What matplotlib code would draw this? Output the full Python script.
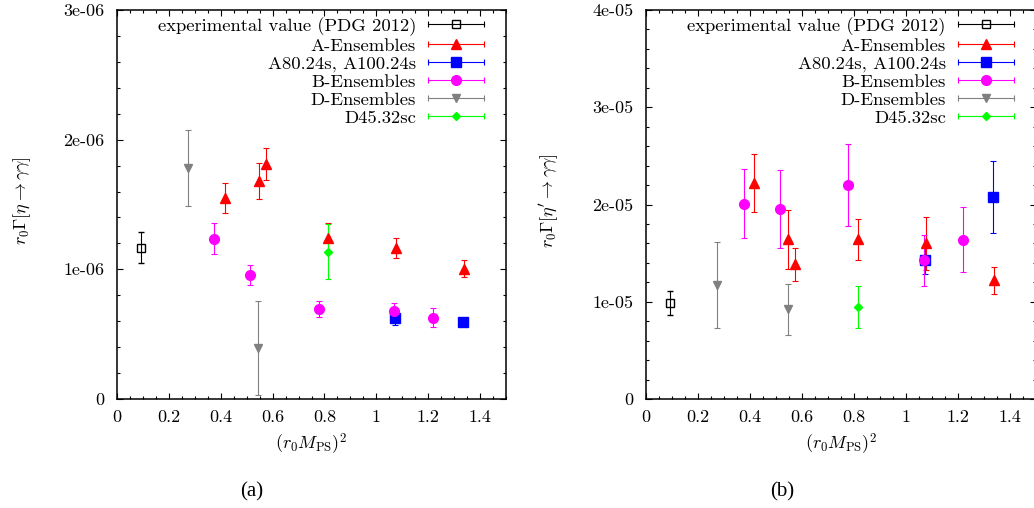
import numpy as np
import matplotlib
matplotlib.use("Agg")
import matplotlib.pyplot as plt
from matplotlib.lines import Line2D
from matplotlib.legend_handler import HandlerBase
from matplotlib.container import ErrorbarContainer
from matplotlib.ticker import MultipleLocator, FuncFormatter

plt.rcParams['mathtext.fontset'] = 'cm'
plt.rcParams['font.family'] = ['cmr10', 'DejaVu Serif']
plt.rcParams['axes.unicode_minus'] = False

# (r0 M_PS)^2 of the ensembles, shared by both panels
x_exp = [0.093]
x_A = [0.416, 0.546, 0.573, 0.815, 1.077, 1.338]
x_A24 = [1.073, 1.336]
x_B = [0.375, 0.514, 0.778, 1.069, 1.219]
x_D = [0.273, 0.545]
x_D45 = [0.815]

# panel (a): r0 Gamma[eta -> gamma gamma]
eta_exp = [1.167e-6]
eta_exp_err = [0.12e-6]
eta_A = [1.551e-6, 1.680e-6, 1.813e-6, 1.245e-6, 1.163e-6, 1.006e-6]
eta_A_err = [0.115e-6, 0.14e-6, 0.125e-6, 0.115e-6, 0.075e-6, 0.065e-6]
eta_A24 = [0.623e-6, 0.592e-6]
eta_A24_err = [0.05e-6, 0.02e-6]
eta_B = [1.237e-6, 0.957e-6, 0.694e-6, 0.681e-6, 0.627e-6]
eta_B_err = [0.12e-6, 0.08e-6, 0.063e-6, 0.058e-6, 0.073e-6]
eta_D = [1.782e-6, 0.394e-6]
eta_D_err = [0.29e-6, 0.36e-6]
eta_D45 = [1.137e-6]
eta_D45_err = [0.214e-6]

# panel (b): r0 Gamma[eta' -> gamma gamma]
etap_exp = [0.987e-5]
etap_exp_err = [0.127e-5]
etap_A = [2.223e-5, 1.641e-5, 1.384e-5, 1.641e-5, 1.600e-5, 1.220e-5]
etap_A_err = [0.30e-5, 0.305e-5, 0.17e-5, 0.21e-5, 0.27e-5, 0.14e-5]
etap_A24 = [1.432e-5, 2.079e-5]
etap_A24_err = [0.145e-5, 0.37e-5]
etap_B = [2.007e-5, 1.953e-5, 2.203e-5, 1.425e-5, 1.637e-5]
etap_B_err = [0.355e-5, 0.40e-5, 0.42e-5, 0.265e-5, 0.335e-5]
etap_D = [1.172e-5, 0.922e-5]
etap_D_err = [0.445e-5, 0.265e-5]
etap_D45 = [0.946e-5]
etap_D45_err = [0.218e-5]

labels = ["experimental value (PDG 2012)", "A-Ensembles", "A80.24s, A100.24s",
          "B-Ensembles", "D-Ensembles", "D45.32sc"]
styles = [
    dict(color='black', marker='s', ms=6, mfc='none', mew=1.0),
    dict(color='red', marker='^', ms=6.5),
    dict(color='blue', marker='s', ms=6.5),
    dict(color='magenta', marker='o', ms=7),
    dict(color='gray', marker='v', ms=6),
    dict(color='lime', marker='D', ms=4.5),
]


class HandlerGnuplotErr(HandlerBase):
    """gnuplot-like key entry: horizontal bar with caps and the point in the middle"""
    def create_artists(self, legend, orig_handle, xdescent, ydescent,
                       width, height, fontsize, trans):
        dl = orig_handle[0]
        c = dl.get_color()
        y = height / 2 - ydescent
        x0, x1 = -xdescent, width - xdescent
        bar = Line2D([x0, x1], [y, y], color=c, lw=0.8)
        caps = Line2D([x0, x1], [y, y], ls='none', marker='|', ms=5, mew=0.8, color=c)
        pt = Line2D([(x0 + x1) / 2], [y], ls='none', marker=dl.get_marker(),
                    ms=dl.get_markersize(), mfc=dl.get_markerfacecolor(),
                    mec=dl.get_markeredgecolor(), mew=dl.get_markeredgewidth())
        for a in (bar, caps, pt):
            a.set_transform(trans)
        return [bar, caps, pt]


def sci_fmt(v, pos):
    if abs(v) < 1e-20:
        return "0"
    return "%.0e" % v


def draw_panel(ax, series, ymax, ystep, ylabel):
    for (xs, ys, es), lab, st in zip(series, labels, styles):
        ax.errorbar(xs, ys, yerr=es, ls='none', capsize=2.5, elinewidth=0.8,
                    capthick=0.8, label=lab, **st)

    ax.set_xlim(0, 1.5)
    ax.set_ylim(0, ymax)
    ax.xaxis.set_major_locator(MultipleLocator(0.2))
    ax.xaxis.set_minor_locator(MultipleLocator(0.05))
    ax.yaxis.set_major_locator(MultipleLocator(ystep))
    ax.yaxis.set_minor_locator(MultipleLocator(ystep / 5))
    ax.xaxis.set_major_formatter(FuncFormatter(lambda v, p: "%g" % round(v, 2)))
    ax.yaxis.set_major_formatter(FuncFormatter(sci_fmt))
    ax.tick_params(which='both', direction='in', top=True, right=True,
                   labelsize=13, width=0.8)
    ax.tick_params(which='major', length=4.5)
    ax.tick_params(which='minor', length=2.2)
    ax.tick_params(axis='x', pad=8)
    ax.tick_params(axis='y', pad=9)
    for sp in ax.spines.values():
        sp.set_linewidth(1.1)

    ax.set_xlabel(r"$(r_0M_{\rm PS})^2$", fontsize=13)
    ax.xaxis.set_label_coords(0.5, -0.083)
    ax.set_ylabel(ylabel, fontsize=13)
    ax.yaxis.set_label_coords(-0.217, 0.51)

    ax.legend(handler_map={ErrorbarContainer: HandlerGnuplotErr()},
              loc='upper right', bbox_to_anchor=(0.943, 0.982), borderaxespad=0,
              frameon=False, markerfirst=False, fontsize=13.4, handlelength=3.0,
              handletextpad=0.65, labelspacing=0.1, borderpad=0)


fig = plt.figure(figsize=(10.34, 5.08), dpi=100)
ax1 = fig.add_axes([117 / 1034, 109 / 508, 389 / 1034, 389 / 508])
ax2 = fig.add_axes([646 / 1034, 109 / 508, 390 / 1034, 389 / 508])

draw_panel(ax1, [(x_exp, eta_exp, eta_exp_err), (x_A, eta_A, eta_A_err),
                 (x_A24, eta_A24, eta_A24_err), (x_B, eta_B, eta_B_err),
                 (x_D, eta_D, eta_D_err), (x_D45, eta_D45, eta_D45_err)],
           3e-6, 1e-6, r"$r_0\Gamma[\eta\rightarrow\gamma\gamma]$")
draw_panel(ax2, [(x_exp, etap_exp, etap_exp_err), (x_A, etap_A, etap_A_err),
                 (x_A24, etap_A24, etap_A24_err), (x_B, etap_B, etap_B_err),
                 (x_D, etap_D, etap_D_err), (x_D45, etap_D45, etap_D45_err)],
           4e-5, 1e-5, r"$r_0\Gamma[\eta'\rightarrow\gamma\gamma]$")

# sub-figure captions
fig.text(252 / 1034, 1 - 492 / 508, "(a)", ha='center', va='center',
         fontsize=15, family='serif', fontname='Liberation Serif')
fig.text(782 / 1034, 1 - 492 / 508, "(b)", ha='center', va='center',
         fontsize=15, family='serif', fontname='Liberation Serif')

fig.savefig("out.png", dpi=100)
